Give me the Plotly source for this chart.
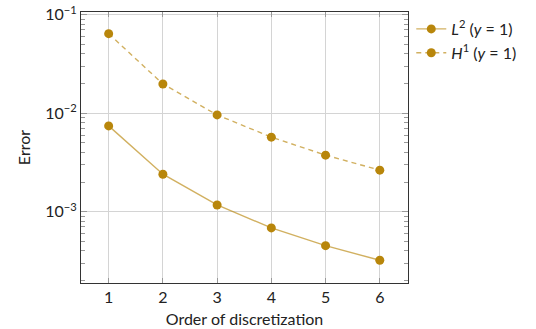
import plotly.graph_objects as go

orders = [1, 2, 3, 4, 5, 6]
err_l2 = [0.00743, 0.00240, 0.00117, 0.000684, 0.000452, 0.000321]
err_h1 = [0.0641, 0.0198, 0.0096, 0.00571, 0.00375, 0.00264]

y_tick_vals = [1e-3, 1e-2, 1e-1]
y_tick_text = ["10<sup>\u22123</sup>", "10<sup>\u22122</sup>", "10<sup>\u22121</sup>"]
# minor log ticks: 2..9 within each decade shown
y_minor_vals = [m * 10.0 ** e for e in (-4, -3, -2) for m in range(2, 10)]

marker_color = "#b8860b"
line_color = "rgba(184,134,11,0.65)"
font_family = "Lato, 'Open Sans', sans-serif"
y_range = [-3.724, -0.973]

fig = go.Figure()
fig.add_trace(go.Scatter(
    x=orders, y=err_l2, mode="lines+markers",
    name="<i>L</i><sup>2</sup> (<i>y</i> = 1)",
    line=dict(color=line_color, width=1.4),
    marker=dict(color=marker_color, size=9),
))
fig.add_trace(go.Scatter(
    x=orders, y=err_h1, mode="lines+markers",
    name="<i>H</i><sup>1</sup> (<i>y</i> = 1)",
    line=dict(color=line_color, width=1.4, dash="5px,4px"),
    marker=dict(color=marker_color, size=9),
))

tick_font = dict(size=16, color="#222", family=font_family)
minor_ticks = dict(tickmode="array", tickvals=y_minor_vals, ticks="inside",
                   ticklen=4, tickcolor="#999", tickwidth=1, showgrid=False)

fig.update_xaxes(
    range=[0.49, 6.52], tickvals=orders,
    showline=True, linecolor="#333", linewidth=1.2, mirror="ticks",
    gridcolor="#d4d4d4", gridwidth=1, zeroline=False,
    ticks="inside", ticklen=5, tickcolor="#999", tickfont=tick_font,
    automargin=False,
    title=dict(text="Order of discretization", font=tick_font, standoff=8),
)
fig.update_layout(
    yaxis=dict(
        type="log", range=y_range,
        tickvals=y_tick_vals, ticktext=y_tick_text,
        showline=True, linecolor="#333", linewidth=1.2, mirror="ticks",
        gridcolor="#d4d4d4", gridwidth=1, zeroline=False,
        ticks="inside", ticklen=6, tickcolor="#999", tickfont=tick_font,
        minor=minor_ticks, automargin=False,
        title=dict(text="Error", font=tick_font, standoff=10),
    ),
)

fig.update_layout(
    width=536, height=329,
    margin=dict(l=81, r=128, t=12, b=46),
    plot_bgcolor="white", paper_bgcolor="white",
    font=dict(family=font_family, color="#222"),
    legend=dict(
        x=1.01, y=1.0, xanchor="left", yanchor="top",
        font=dict(size=16, family=font_family, color="#222"),
        bgcolor="rgba(0,0,0,0)", tracegroupgap=0, itemwidth=30,
    ),
)

fig.write_html("out.html")
